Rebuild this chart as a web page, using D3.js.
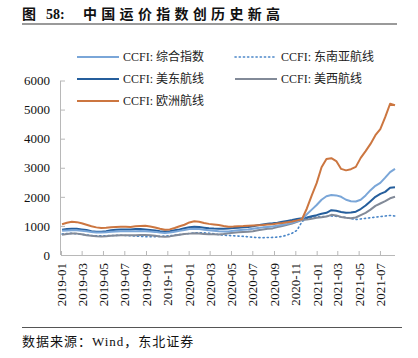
<!DOCTYPE html>
<html>
<head>
<meta charset="utf-8">
<script src="https://cdn.jsdelivr.net/npm/d3@7"></script>
<style>
  body { margin: 0; background: #fff; }
  svg { display: block; }
</style>
</head>
<body>
<svg id="chart" width="418" height="358"></svg>
<script>
// weekly CCFI readings, taken every second week from 2019-01-04
const startDate = "2019-01-04";
const stepDays = 14;

const tickLabels = ["2019-01", "2019-03", "2019-05", "2019-07", "2019-09", "2019-11",
  "2020-01", "2020-03", "2020-05", "2020-07", "2020-09", "2020-11",
  "2021-01", "2021-03", "2021-05", "2021-07"];
const yTicks = [0, 1000, 2000, 3000, 4000, 5000, 6000];

const composite = [830, 845, 855, 850, 835, 815, 790, 775, 770, 780,
  800, 810, 815, 815, 815, 820, 825, 820, 810, 795,
  775, 760, 770, 800, 830, 860, 890, 900, 890, 870,
  850, 830, 815, 805, 810, 830, 850, 870, 880, 900,
  930, 950, 965, 980, 1010, 1040, 1070, 1110, 1160, 1230,
  1400, 1560, 1720, 1900, 2020, 2060, 2050, 2000, 1900, 1850,
  1840, 1900, 2050, 2230, 2380, 2480, 2660, 2850, 2960];

const seAsia = [720, 740, 745, 730, 710, 690, 670, 660, 660, 665,
  670, 675, 680, 670, 660, 650, 640, 630, 625, 630,
  640, 650, 660, 680, 700, 720, 740, 760, 765, 760,
  750, 730, 700, 680, 670, 660, 650, 640, 625, 610,
  600, 595, 600, 605, 615, 640, 690, 750, 850, 1150,
  1250, 1290, 1310, 1320, 1330, 1340, 1330, 1310, 1290, 1250,
  1220, 1240, 1260, 1280, 1300, 1320, 1340, 1360, 1340];

const usEast = [870, 890, 905, 900, 880, 860, 820, 800, 800, 815,
  850, 870, 880, 880, 880, 890, 895, 880, 860, 840,
  820, 805, 820, 850, 880, 920, 955, 970, 960, 940,
  920, 910, 905, 905, 914, 925, 940, 950, 960, 990,
  1020, 1050, 1075, 1090, 1110, 1140, 1170, 1200, 1235, 1260,
  1290, 1330, 1370, 1420, 1450, 1540, 1520, 1480, 1450, 1460,
  1490, 1580, 1700, 1850, 2000, 2100, 2170, 2310, 2330];

const usWest = [700, 720, 740, 735, 710, 680, 660, 645, 640, 645,
  660, 670, 680, 680, 675, 680, 690, 690, 680, 660,
  640, 630, 640, 670, 700, 720, 735, 745, 740, 725,
  710, 710, 705, 720, 750, 765, 780, 790, 800, 820,
  850, 875, 900, 915, 960, 1000, 1040, 1080, 1140, 1200,
  1220, 1250, 1280, 1300, 1320, 1380, 1360, 1310, 1280, 1260,
  1290, 1370, 1450, 1560, 1690, 1770, 1850, 1950, 2000];

const europe = [1060, 1110, 1140, 1130, 1090, 1040, 990, 950, 930, 935,
  950, 965, 975, 970, 965, 985, 995, 1005, 980, 945,
  900, 870, 880, 930, 990, 1040, 1120, 1160, 1140, 1100,
  1070, 1050, 1030, 1000, 975, 980, 990, 995, 1005, 1015,
  1025, 1030, 1045, 1060, 1080, 1100, 1125, 1150, 1190, 1230,
  1600, 2050, 2470, 3020, 3300, 3330, 3230, 2960, 2910, 2950,
  3030, 3340, 3570, 3820, 4120, 4330, 4740, 5200, 5150];

const seriesNames = ["CCFI: 综合指数", "CCFI: 东南亚航线", "CCFI: 美东航线", "CCFI: 美西航线", "CCFI: 欧洲航线"];

const series = [
  { name: seriesNames[0], values: composite, color: "#7aa6d8", dash: null, width: 2 },
  { name: seriesNames[1], values: seAsia, color: "#4a86c8", dash: "1.2,3", width: 1.6 },
  { name: seriesNames[2], values: usEast, color: "#255e9c", dash: null, width: 2 },
  { name: seriesNames[3], values: usWest, color: "#828a98", dash: null, width: 2 },
  { name: seriesNames[4], values: europe, color: "#cc7640", dash: null, width: 2 }
];

const t0 = d3.timeParse("%Y-%m-%d")(startDate);
const dates = composite.map((v, i) => d3.timeDay.offset(t0, i * stepDays));

const svg = d3.select("#chart");
const serif = "'Liberation Serif', 'Noto Sans CJK SC', serif";

// title
svg.append("text").attr("x", 22).attr("y", 19)
  .attr("font-family", serif).attr("font-weight", "bold").attr("font-size", 14)
  .attr("fill", "#111").text("图");
svg.append("text").attr("x", 46).attr("y", 19)
  .attr("font-family", serif).attr("font-weight", "bold").attr("font-size", 14)
  .attr("fill", "#111").text("58:");
svg.append("text").attr("x", 83).attr("y", 19)
  .attr("font-family", serif).attr("font-weight", "bold").attr("font-size", 14)
  .attr("letter-spacing", 4.3).attr("fill", "#111").text("中国运价指数创历史新高");
svg.append("line").attr("x1", 22).attr("x2", 397).attr("y1", 24).attr("y2", 24)
  .attr("stroke", "#9a9a9a").attr("stroke-width", 2);

// scales
const x = d3.scaleTime()
  .domain([new Date(2019, 0, 1), new Date(2021, 7, 13)])
  .range([61, 395]);
const y = d3.scaleLinear().domain([0, 6000]).range([255, 80.5]);

// y axis
const yAxis = d3.axisLeft(y).tickValues(yTicks).tickFormat(d3.format("d")).tickSize(-4).tickPadding(11);
const gy = svg.append("g").attr("transform", "translate(61,0)").call(yAxis);
gy.select(".domain").attr("d", "M-0.5,80.5V255").attr("stroke", "#b8b8b8");
gy.selectAll(".tick line").attr("stroke", "#b8b8b8").attr("x1", 0).attr("x2", 4);
gy.selectAll("text").attr("font-family", serif).attr("font-size", 13).attr("fill", "#111");

// x axis
const parseMonth = d3.timeParse("%Y-%m");
const xAxis = d3.axisBottom(x)
  .tickValues(tickLabels.map(parseMonth))
  .tickFormat(d3.timeFormat("%Y-%m"))
  .tickSize(-4);
const gx = svg.append("g").attr("transform", "translate(0,255)").call(xAxis);
gx.select(".domain").attr("d", "M61,0.5H395").attr("stroke", "#b8b8b8");
gx.selectAll(".tick line").attr("stroke", "#b8b8b8");
gx.selectAll("text")
  .attr("font-family", serif).attr("font-size", 13).attr("fill", "#111")
  .attr("transform", "rotate(-90)")
  .attr("text-anchor", "end")
  .attr("x", -8).attr("y", 0).attr("dy", "0.35em");

// lines
const line = d3.line()
  .x((d, i) => x(dates[i]))
  .y(d => y(d));

const order = [1, 3, 2, 0, 4];
order.forEach(k => {
  const s = series[k];
  svg.append("path")
    .attr("d", line(s.values))
    .attr("fill", "none")
    .attr("stroke", s.color)
    .attr("stroke-width", s.width)
    .attr("stroke-linecap", s.dash ? "round" : "butt")
    .attr("stroke-linejoin", "round")
    .attr("stroke-dasharray", s.dash);
});

// legend
const legendPos = [[77, 57], [235, 57], [77, 79], [235, 79], [77, 101]];
series.forEach((s, i) => {
  const [lx, ly] = legendPos[i];
  svg.append("line").attr("x1", lx).attr("x2", lx + 42).attr("y1", ly).attr("y2", ly)
    .attr("stroke", s.color).attr("stroke-width", s.dash ? 1.6 : 2.2)
    .attr("stroke-linecap", s.dash ? "round" : "butt")
    .attr("stroke-dasharray", s.dash);
  svg.append("text").attr("x", lx + 46).attr("y", ly).attr("dy", "0.35em")
    .attr("font-family", serif).attr("font-size", 12).attr("fill", "#222")
    .text(s.name);
});

// source
svg.append("line").attr("x1", 22).attr("x2", 402).attr("y1", 327.5).attr("y2", 327.5)
  .attr("stroke", "#555").attr("stroke-width", 1);
svg.append("text").attr("x", 22).attr("y", 346)
  .attr("font-family", serif).attr("font-size", 13).attr("letter-spacing", 1)
  .attr("fill", "#111").text("数据来源：Wind，东北证券");
</script>
</body>
</html>
